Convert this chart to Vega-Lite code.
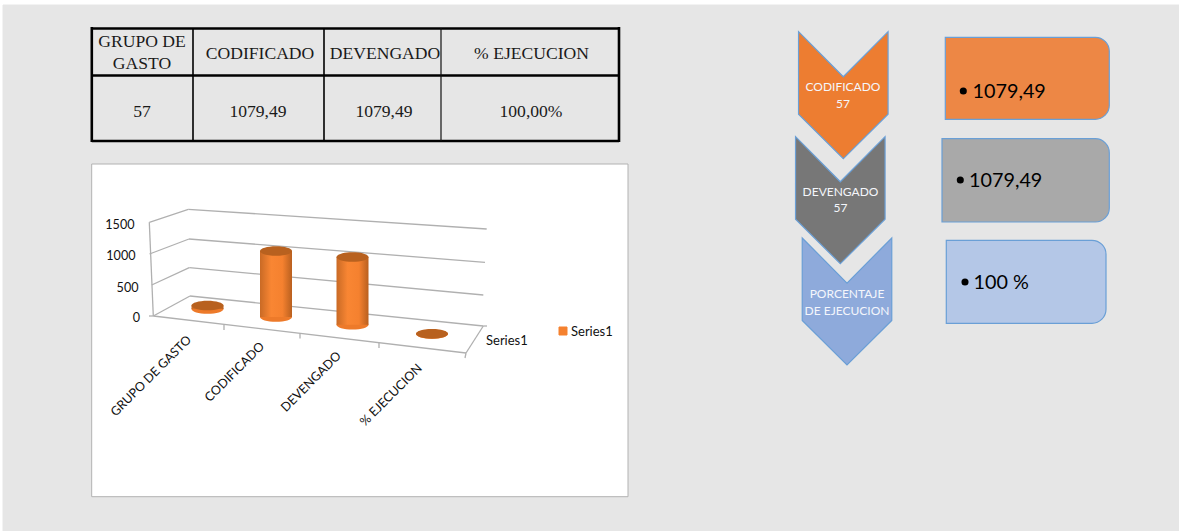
{"$schema":"https://vega.github.io/schema/vega-lite/v6.json","width":1179,"height":531,"padding":0,"autosize":{"type":"none"},"background":"#ffffff","view":{"stroke":null},"config":{"axis":{"grid":false}},
"resolve":{"scale":{"y":"independent","x":"shared"}},
"encoding":{},
"layer":[
{"layer":[
{"data":{"values":[{"part":"pagina","xa":3,"xb":1179,"ya":5,"yb":531},{"part":"grafico","xa":91.7,"xb":628,"ya":164,"yb":496.7},{"part":"leyenda","xa":559,"xb":567,"ya":327,"yb":335}]},
"mark":{"type":"rect"},
"encoding":{"x":{"field":"xa","type":"quantitative","axis":null,"scale":{"domain":[0,1179],"nice":false,"zero":false,"padding":0}},"x2":{"field":"xb"},"y":{"field":"ya","type":"quantitative","axis":null,"scale":{"domain":[531,0],"nice":false,"zero":false,"padding":0}},"y2":{"field":"yb"},
"fill":{"field":"part","type":"nominal","legend":null,"scale":{"domain":["pagina","grafico","leyenda","codificado","devengado","ejecucion","caja codificado","caja devengado","caja ejecucion"],"range":["#e6e6e6","#ffffff","#f5812f","#ed7d31","#777777","#8eaadb","#ed8745","#a9a9a9","#b4c7e7"]}},
"stroke":{"field":"part","type":"nominal","legend":null,"scale":{"domain":["pagina","grafico","leyenda"],"range":["#e6e6e6","#b2b2b2","#f5812f"]}}}},
{"data":{"values":[{"part":"caja codificado","xa":945.3,"xb":1109.3,"ya":37.3,"yb":119.3},{"part":"caja devengado","xa":942,"xb":1109.3,"ya":138.7,"yb":222},{"part":"caja ejecucion","xa":946.3,"xb":1106,"ya":240.3,"yb":323.3}]},
"mark":{"type":"rect","stroke":"#6a9fd6","strokeWidth":1.2,"cornerRadiusTopRight":14,"cornerRadiusBottomRight":14},
"encoding":{"x":{"field":"xa","type":"quantitative","axis":null},"x2":{"field":"xb"},"y":{"field":"ya","type":"quantitative","axis":null},"y2":{"field":"yb"},"fill":{"field":"part","type":"nominal","legend":null}}},
{"data":{"values":[{"part":"codificado","xc":843.3,"yc":95.2},{"part":"devengado","xc":840.3,"yc":200.2},{"part":"ejecucion","xc":847,"yc":301.5}]},
"mark":{"type":"point","filled":true,"opacity":1,"size":16129,"shape":"M -0.705 -1 L 0 -0.29 L 0.705 -1 L 0.705 0.3 L 0 1 L -0.705 0.3 Z","stroke":"#6a9fd6","strokeWidth":1.2},
"encoding":{"x":{"field":"xc","type":"quantitative","axis":null},"y":{"field":"yc","type":"quantitative","axis":null},"fill":{"field":"part","type":"nominal","legend":null}}},
{"data":{"values":[
{"grupo":"tabla gruesa","xa":91.8,"xb":619,"ya":28.5,"yb":28.5},{"grupo":"tabla gruesa","xa":91.8,"xb":619,"ya":75.5,"yb":75.5},{"grupo":"tabla gruesa","xa":91.8,"xb":619,"ya":141,"yb":141},{"grupo":"tabla gruesa","xa":91.8,"xb":91.8,"ya":27,"yb":142},{"grupo":"tabla gruesa","xa":619,"xb":619,"ya":27,"yb":142},{"grupo":"tabla media","xa":193,"xb":193,"ya":28,"yb":141},{"grupo":"tabla media","xa":324,"xb":324,"ya":28,"yb":141},{"grupo":"tabla fina","xa":441,"xb":441,"ya":28,"yb":141},
{"grupo":"eje","xa":149.3,"xb":188.3,"ya":222.3,"yb":209.3},{"grupo":"eje","xa":188.3,"xb":486.7,"ya":209.3,"yb":229},{"grupo":"eje","xa":149.5,"xb":189,"ya":254,"yb":239},{"grupo":"eje","xa":189,"xb":485,"ya":239,"yb":262.3},{"grupo":"eje","xa":151.7,"xb":189.3,"ya":285,"yb":267.7},{"grupo":"eje","xa":189.3,"xb":483.3,"ya":267.7,"yb":295},{"grupo":"eje","xa":153.3,"xb":190,"ya":316,"yb":296},{"grupo":"eje","xa":190,"xb":483.3,"ya":296,"yb":326},{"grupo":"eje","xa":153.3,"xb":466,"ya":316,"yb":353},{"grupo":"eje","xa":483.3,"xb":466,"ya":326,"yb":353},{"grupo":"eje","xa":149.3,"xb":153.3,"ya":222.3,"yb":316},{"grupo":"eje","xa":224,"xb":224,"ya":325,"yb":330},{"grupo":"eje","xa":300,"xb":300,"ya":333.5,"yb":338.5},{"grupo":"eje","xa":379,"xb":379,"ya":343,"yb":348},{"grupo":"eje","xa":466,"xb":465,"ya":353,"yb":358},{"grupo":"eje","xa":153.3,"xb":149,"ya":316,"yb":316},{"grupo":"eje","xa":483.3,"xb":487,"ya":326,"yb":326}]},
"mark":{"type":"rule"},
"encoding":{"x":{"field":"xa","type":"quantitative","axis":null},"x2":{"field":"xb"},"y":{"field":"ya","type":"quantitative","axis":null},"y2":{"field":"yb"},
"color":{"field":"grupo","type":"nominal","legend":null,"scale":{"domain":["tabla gruesa","tabla media","tabla fina","eje"],"range":["#000000","#000000","#111111","#b0b0b0"]}},
"strokeWidth":{"field":"grupo","type":"nominal","legend":null,"scale":{"type":"ordinal","domain":["tabla gruesa","tabla media","tabla fina","eje"],"range":[2.6,1.6,1.2,1.3]}}}},
{"data":{"values":[
{"texto":"GRUPO DE","xc":142,"yc":42},{"texto":"GASTO","xc":142,"yc":64},{"texto":"CODIFICADO","xc":260,"yc":54},{"texto":"DEVENGADO","xc":385,"yc":54},{"texto":"% EJECUCION","xc":531.5,"yc":54},{"texto":"57","xc":142,"yc":111.5},{"texto":"1079,49","xc":258,"yc":111.5},{"texto":"1079,49","xc":384,"yc":111.5},{"texto":"100,00%","xc":531,"yc":111.5}]},
"mark":{"type":"text","font":"Liberation Serif","fontSize":17.6,"color":"#1a1a1a","align":"center","baseline":"middle"},
"encoding":{"x":{"field":"xc","type":"quantitative","axis":null},"y":{"field":"yc","type":"quantitative","axis":null},"text":{"field":"texto"}}},
{"data":{"values":[{"texto":"1500","xc":134.5,"yc":224.5},{"texto":"1000","xc":135.5,"yc":256},{"texto":"500","xc":138.5,"yc":287.5},{"texto":"0","xc":140,"yc":317.5}]},
"mark":{"type":"text","font":"Lato","fontSize":12.6,"color":"#111111","align":"right","baseline":"middle"},
"encoding":{"x":{"field":"xc","type":"quantitative","axis":null},"y":{"field":"yc","type":"quantitative","axis":null},"text":{"field":"texto"}}},
{"data":{"values":[{"texto":"Series1","xc":486,"yc":340.5},{"texto":"Series1","xc":571,"yc":331.5}]},
"mark":{"type":"text","font":"Lato","fontSize":13,"color":"#111111","align":"left","baseline":"middle"},
"encoding":{"x":{"field":"xc","type":"quantitative","axis":null},"y":{"field":"yc","type":"quantitative","axis":null},"text":{"field":"texto"}}},
{"data":{"values":[{"texto":"GRUPO DE GASTO","xc":151,"yc":376},{"texto":"CODIFICADO","xc":234.6,"yc":372},{"texto":"DEVENGADO","xc":311,"yc":381.7},{"texto":"% EJECUCION","xc":391,"yc":395}]},
"mark":{"type":"text","font":"Lato","fontSize":12.5,"color":"#111111","align":"center","baseline":"middle","angle":315},
"encoding":{"x":{"field":"xc","type":"quantitative","axis":null},"y":{"field":"yc","type":"quantitative","axis":null},"text":{"field":"texto"}}},
{"data":{"values":[{"texto":"CODIFICADO","xc":843,"yc":87},{"texto":"57","xc":843,"yc":103.5},{"texto":"DEVENGADO","xc":840.5,"yc":191.5},{"texto":"57","xc":840.5,"yc":208},{"texto":"PORCENTAJE","xc":847,"yc":294},{"texto":"DE EJECUCION","xc":847,"yc":311}]},
"mark":{"type":"text","font":"Lato","fontSize":12,"color":"#f4f6fb","align":"center","baseline":"middle"},
"encoding":{"x":{"field":"xc","type":"quantitative","axis":null},"y":{"field":"yc","type":"quantitative","axis":null},"text":{"field":"texto"}}},
{"data":{"values":[{"xc":963.3,"yc":91},{"xc":960.3,"yc":180},{"xc":965,"yc":282}]},
"mark":{"type":"point","shape":"circle","filled":true,"opacity":1,"size":50,"color":"#000000"},
"encoding":{"x":{"field":"xc","type":"quantitative","axis":null},"y":{"field":"yc","type":"quantitative","axis":null}}},
{"data":{"values":[{"texto":"1079,49","xc":972.5,"yc":92},{"texto":"1079,49","xc":969,"yc":181},{"texto":"100 %","xc":973.5,"yc":283}]},
"mark":{"type":"text","font":"Lato","fontSize":19.8,"color":"#000000","align":"left","baseline":"middle"},
"encoding":{"x":{"field":"xc","type":"quantitative","axis":null},"y":{"field":"yc","type":"quantitative","axis":null},"text":{"field":"texto"}}}
]},
{"data":{"values":[
{"categoria":"GRUPO DE GASTO","valor":57,"posicion":207.5,"nivelBase":112,"nivelTope":168},
{"categoria":"CODIFICADO","valor":1079.49,"posicion":276,"nivelBase":-16,"nivelTope":1037},
{"categoria":"DEVENGADO","valor":1079.49,"posicion":352.5,"nivelBase":-140,"nivelTope":941},
{"categoria":"% EJECUCION","valor":1,"posicion":432,"nivelBase":-287,"nivelTope":-285}]},
"layer":[
{"mark":{"type":"point","filled":true,"opacity":1,"size":1024,"strokeWidth":0,"shape":"M -1 0 A 1 0.3 0 1 1 1 0 A 1 0.3 0 1 1 -1 0 Z","fill":"#ed7a2a"},
"encoding":{"x":{"field":"posicion","type":"quantitative","axis":null},"y":{"field":"nivelBase","type":"quantitative","axis":null,"scale":{"domain":[0,1500],"range":[316,222],"nice":false,"zero":false}}}},
{"mark":{"type":"bar","size":32,"fill":{"gradient":"linear","x1":0,"y1":0,"x2":1,"y2":0,"stops":[{"offset":0,"color":"#c96a25"},{"offset":0.35,"color":"#f98633"},{"offset":0.7,"color":"#f5812f"},{"offset":1,"color":"#b9601f"}]}},
"encoding":{"x":{"field":"posicion","type":"quantitative","axis":null},"y":{"field":"nivelBase","type":"quantitative","axis":null},"y2":{"field":"nivelTope"}}},
{"mark":{"type":"point","filled":true,"opacity":1,"size":1024,"strokeWidth":0,"shape":"M -1 0 A 1 0.3 0 1 1 1 0 A 1 0.3 0 1 1 -1 0 Z","fill":"#b8611f"},
"encoding":{"x":{"field":"posicion","type":"quantitative","axis":null},"y":{"field":"nivelTope","type":"quantitative","axis":null}}}
]}
]}
